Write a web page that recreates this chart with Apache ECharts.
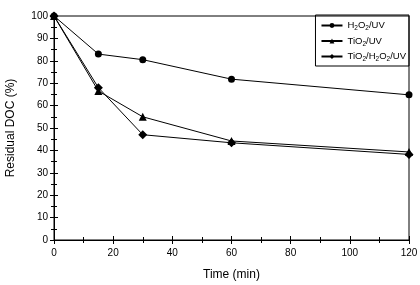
<!DOCTYPE html>
<html><head><meta charset="utf-8">
<script src="https://cdn.jsdelivr.net/npm/echarts@6/dist/echarts.min.js"></script>
<style>html,body{margin:0;padding:0;background:#fff}#c{width:420px;height:285px}</style>
</head><body><div id="c"></div>
<script>
const times = [0, 15, 30, 60, 120];
const h2o2 = [100, 83, 80.5, 71.8, 64.8];
const tio2 = [100, 66.5, 55, 44.2, 39.3];
const tio2h2o2 = [100, 68, 47, 43.4, 38.2];
const seriesNames = ['H2O2/UV', 'TiO2/UV', 'TiO2/H2O2/UV'];
const legendRich = {
  'H2O2/UV': '{n|H}{s|2}{n|O}{s|2}{n|/UV}',
  'TiO2/UV': '{n|TiO}{s|2}{n|/UV}',
  'TiO2/H2O2/UV': '{n|TiO}{s|2}{n|/H}{s|2}{n|O}{s|2}{n|/UV}'
};
const font = 'Liberation Sans, Arial, sans-serif';
const chart = echarts.init(document.getElementById('c'), null, {renderer: 'canvas'});
function mk(name, data, symbol, size) {
  return {
    name: name, type: 'line', data: times.map((t, i) => [t, data[i]]),
    symbol: symbol, symbolSize: size,
    lineStyle: {color: '#000', width: 1},
    itemStyle: {color: '#000'},
    emphasis: {disabled: true}, animation: false
  };
}
const axisBase = {
  axisLine: {show: true, onZero: false, lineStyle: {color: '#000', width: 1}},
  splitLine: {show: false}
};
chart.setOption({
  animation: false,
  grid: {left: 54, right: 11, top: 16, bottom: 45, show: true, borderColor: '#000', borderWidth: 1,
         containLabel: false, outerBoundsMode: 'none'},
  legend: {
    data: seriesNames, orient: 'vertical', right: 11, top: 15,
    borderColor: '#000', borderWidth: 1, padding: [4, 3, 3, 5], itemGap: 2.5,
    itemWidth: 21, itemHeight: 6,
    formatter: n => legendRich[n],
    textStyle: {
      fontFamily: font, color: '#000',
      rich: {
        n: {fontSize: 9.5, fontFamily: font, color: '#000', lineHeight: 14},
        s: {fontSize: 6.5, fontFamily: font, color: '#000', lineHeight: 8, padding: [6, 0, 0, 0]}
      }
    }
  },
  xAxis: [
    Object.assign({}, axisBase, {
      type: 'value', min: 0, max: 120, interval: 20, position: 'bottom',
      name: 'Time (min)', nameLocation: 'middle', nameGap: 29,
      nameTextStyle: {fontFamily: font, fontSize: 12, color: '#000'},
      axisTick: {show: true, length: 4, lineStyle: {color: '#000'}},
      minorTick: {show: true, splitNumber: 2, length: 3, lineStyle: {color: '#000'}},
      axisLabel: {fontFamily: font, fontSize: 10, color: '#000', margin: 8}
    }),
    Object.assign({}, axisBase, {
      type: 'value', min: 0, max: 120, interval: 20, position: 'bottom', gridIndex: 0,
      axisTick: {show: true, inside: true, length: 4, lineStyle: {color: '#000'}},
      minorTick: {show: true, splitNumber: 2, length: 3, lineStyle: {color: '#000'}},
      axisLabel: {show: false}
    })
  ],
  yAxis: [
    Object.assign({}, axisBase, {
      type: 'value', min: 0, max: 100, interval: 10, position: 'left',
      name: 'Residual DOC (%)', nameLocation: 'middle', nameGap: 37,
      nameTextStyle: {fontFamily: font, fontSize: 12, color: '#000'},
      axisTick: {show: true, length: 4, lineStyle: {color: '#000'}},
      minorTick: {show: true, splitNumber: 2, length: 3, lineStyle: {color: '#000'}},
      axisLabel: {fontFamily: font, fontSize: 10, color: '#000', margin: 6}
    }),
    Object.assign({}, axisBase, {
      type: 'value', min: 0, max: 100, interval: 10, position: 'left',
      axisTick: {show: true, inside: true, length: 4, lineStyle: {color: '#000'}},
      minorTick: {show: true, splitNumber: 2, length: 3, lineStyle: {color: '#000'}},
      axisLabel: {show: false}
    })
  ],
  series: [
    mk(seriesNames[0], h2o2, 'circle', 7),
    mk(seriesNames[1], tio2, 'triangle', 8),
    mk(seriesNames[2], tio2h2o2, 'diamond', 9)
  ]
});
</script></body></html>
